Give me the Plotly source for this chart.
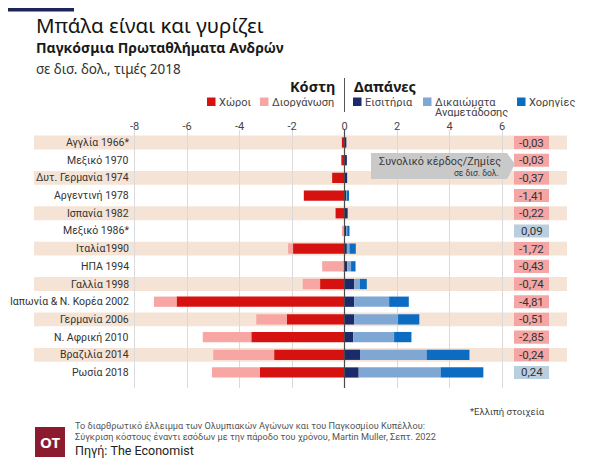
import plotly.graph_objects as go

# ---------------- data ----------------
countries = ["Αγγλία 1966*", "Μεξικό 1970", "Δυτ. Γερμανία 1974", "Αργεντινή 1978",
             "Ισπανία 1982", "Μεξικό 1986*", "Ιταλία1990", "ΗΠΑ 1994", "Γαλλία 1998",
             "Ιαπωνία & Ν. Κορέα 2002", "Γερμανία 2006", "Ν. Αφρική 2010",
             "Βραζιλία 2014", "Ρωσία 2018"]
venues = [-0.10, -0.12, -0.47, -1.55, -0.34, 0.0, -1.96, -0.02, -0.93, -6.40, -2.19, -3.55, -2.68, -3.23]
organisation = [0.0, 0.0, 0.0, 0.0, 0.0, -0.10, -0.19, -0.83, -0.66, -0.86, -1.17, -1.85, -2.32, -1.82]
tickets = [0.07, 0.09, 0.10, 0.07, 0.12, 0.07, 0.09, 0.10, 0.37, 0.37, 0.37, 0.33, 0.59, 0.54]
tv_rights = [0.0, 0.0, 0.0, 0.04, 0.0, 0.04, 0.10, 0.15, 0.22, 1.33, 1.67, 1.56, 2.54, 3.12]
sponsors = [0.0, 0.0, 0.0, 0.03, 0.0, 0.08, 0.24, 0.17, 0.26, 0.75, 0.81, 0.66, 1.63, 1.63]
net = [-0.03, -0.03, -0.37, -1.41, -0.22, 0.09, -1.72, -0.43, -0.74, -4.81, -0.51, -2.85, -0.24, 0.24]

series_names = ["Χώροι", "Διοργάνωση", "Εισιτήρια", "Δικαιώματα<br>Αναμετάδοσης", "Χορηγίες"]
series_values = [venues, organisation, tickets, tv_rights, sponsors]
series_colors = ["#D5120F", "#F7A6A4", "#1B2A6B", "#7FA7D3", "#0B6CC1"]
tick_values = [-8, -6, -4, -2, 0, 2, 4, 6]

# ---------------- geometry helpers (page pixel coordinates) ----------------
OFF = 8                       # default page margin around the plot div
W, H = 600 - OFF, 474 - OFF
ZERO_PX, PX_PER_UNIT = 344.5, 26.25
TOP_PX, BOT_PX = 130, 388
ROW0_PX, ROW_STEP = 142.5, 17.69


def dx(px):  # page pixel x -> data x
    return (px - ZERO_PX) / PX_PER_UNIT


def py(p):  # page pixel y -> paper y
    return (BOT_PX - p) / (BOT_PX - TOP_PX)


def ppx(p):  # page pixel x -> paper x
    return (p - OFF) / W


n = len(countries)
rows = list(range(n))
FONT = "Noto Sans"
FONT2 = "Roboto"

fig = go.Figure()
for name, vals, col in zip(series_names, series_values, series_colors):
    fig.add_trace(go.Bar(
        y=rows, x=vals, orientation="h", name=name.replace("<br>", " "),
        marker=dict(color=col, line=dict(width=0)), width=0.58,
        showlegend=False, hoverinfo="x+name"))

shapes = []
annotations = []

# row bands
for i in rows:
    if i % 2 == 0:
        shapes.append(dict(type="rect", xref="x", yref="y", x0=dx(34), x1=dx(567),
                           y0=i - 0.39, y1=i + 0.39, fillcolor="#F5E3D5",
                           line=dict(width=0), layer="below"))

# category labels
for i, c in enumerate(countries):
    annotations.append(dict(x=dx(131), y=i, xref="x", yref="y", text=c, showarrow=False,
                            xanchor="right", yanchor="middle",
                            font=dict(family=FONT2, size=10.5, color="#333333")))

# net value boxes
for i, v in enumerate(net):
    shapes.append(dict(type="rect", xref="x", yref="y", x0=dx(514), x1=dx(549),
                       y0=i - 0.37, y1=i + 0.37,
                       fillcolor="#F5A5A4" if v < 0 else "#B9CEDF",
                       line=dict(width=0), layer="below"))
    annotations.append(dict(x=dx(531.5), y=i, xref="x", yref="y",
                            text=f"{v:.2f}".replace(".", ","), showarrow=False,
                            xanchor="center", yanchor="middle",
                            font=dict(family=FONT2, size=11.5, color="#333333")))

# zero line on top of bars
shapes.append(dict(type="line", xref="x", yref="paper", x0=0, x1=0, y0=0, y1=1,
                   line=dict(color="#4a4a4a", width=1.2), layer="above"))

# callout
x0c, x1c, xt = ppx(371), ppx(507), ppx(515)
shapes.append(dict(type="path", xref="paper", yref="paper",
                   path=f"M {x0c},{py(153)} L {x1c},{py(153)} L {xt},{py(164)} "
                        f"L {x1c},{py(179)} L {x0c},{py(179)} Z",
                   fillcolor="#C9C9C9", line=dict(width=0), layer="above"))
annotations.append(dict(x=ppx(503), y=py(161.5), xref="paper", yref="paper",
                        text="Συνολικό κέρδος/Ζημίες", showarrow=False,
                        xanchor="right", yanchor="middle",
                        font=dict(family=FONT2, size=10.8, color="#3a3a3a")))
annotations.append(dict(x=ppx(501), y=py(173), xref="paper", yref="paper",
                        text="σε δισ. δολ.", showarrow=False,
                        xanchor="right", yanchor="middle",
                        font=dict(family=FONT2, size=8.5, color="#3a3a3a")))

# header: Κόστη | Δαπάνες
annotations.append(dict(x=ppx(337), y=py(86), xref="paper", yref="paper", text="<b>Κόστη</b>",
                        showarrow=False, xanchor="right", yanchor="middle",
                        font=dict(family=FONT, size=14.5, color="#1a1a1a")))
annotations.append(dict(x=ppx(352), y=py(86), xref="paper", yref="paper", text="<b>Δαπάνες</b>",
                        showarrow=False, xanchor="left", yanchor="middle",
                        font=dict(family=FONT, size=14.5, color="#1a1a1a")))
shapes.append(dict(type="line", xref="paper", yref="paper", x0=ppx(344.5), x1=ppx(344.5),
                   y0=py(78), y1=py(112), line=dict(color="#555555", width=1)))

# legend
legend_sq_x = [207, 260, 353, 423, 517]
for name, col, sx in zip(series_names, series_colors, legend_sq_x):
    shapes.append(dict(type="rect", xref="paper", yref="paper", x0=ppx(sx), x1=ppx(sx + 8.5),
                       y0=py(106), y1=py(97.5), fillcolor=col, line=dict(width=0)))
    for k, part in enumerate(name.split("<br>")):
        annotations.append(dict(x=ppx(sx + 11), y=py(101.5 + 10.5 * k), xref="paper",
                                yref="paper", text=part, showarrow=False, xanchor="left",
                                yanchor="middle", height=10, borderpad=0,
                                font=dict(family=FONT2, size=11, color="#444444")))

# title block
shapes.append(dict(type="rect", xref="paper", yref="paper", x0=ppx(OFF), x1=ppx(74),
                   y0=py(3.5 + OFF), y1=py(OFF), fillcolor="#1C2458", line=dict(width=0)))
annotations.append(dict(x=ppx(34), y=py(25), xref="paper", yref="paper",
                        text="Μπάλα είναι και γυρίζει", showarrow=False,
                        xanchor="left", yanchor="middle",
                        font=dict(family=FONT, size=20.5, color="#141414")))
annotations.append(dict(x=ppx(34), y=py(47.5), xref="paper", yref="paper",
                        text="<b>Παγκόσμια Πρωταθλήματα Ανδρών</b>", showarrow=False,
                        xanchor="left", yanchor="middle",
                        font=dict(family=FONT, size=14, color="#1a1a1a")))
annotations.append(dict(x=ppx(34), y=py(68.5), xref="paper", yref="paper",
                        text="σε δισ. δολ., τιμές 2018", showarrow=False,
                        xanchor="left", yanchor="middle",
                        font=dict(family=FONT, size=13.5, color="#333333")))

# footer
annotations.append(dict(x=ppx(547), y=py(411), xref="paper", yref="paper",
                        text="*Ελλιπή στοιχεία", showarrow=False,
                        xanchor="right", yanchor="middle",
                        font=dict(family=FONT2, size=9.5, color="#444444")))
shapes.append(dict(type="rect", xref="paper", yref="paper", x0=ppx(35), x1=ppx(65),
                   y0=py(457), y1=py(427), fillcolor="#8C1B30", line=dict(width=0)))
annotations.append(dict(x=ppx(50), y=py(442), xref="paper", yref="paper",
                        text="<b>OT</b>", showarrow=False, xanchor="center", yanchor="middle",
                        font=dict(family=FONT, size=15, color="white")))
annotations.append(dict(x=ppx(73), y=py(425), xref="paper", yref="paper",
                        text="Το διαρθρωτικό έλλειμμα των Ολυμπιακών Αγώνων και του Παγκοσμίου Κυπέλλου:",
                        showarrow=False, xanchor="left", yanchor="middle",
                        font=dict(family=FONT2, size=9.2, color="#555555")))
annotations.append(dict(x=ppx(73), y=py(436.5), xref="paper", yref="paper",
                        text="Σύγκριση κόστους έναντι εσόδων με την πάροδο του χρόνου, Martin Muller, Σεπτ. 2022",
                        showarrow=False, xanchor="left", yanchor="middle",
                        font=dict(family=FONT2, size=9.2, color="#555555")))
annotations.append(dict(x=ppx(73), y=py(450.5), xref="paper", yref="paper",
                        text="Πηγή: The Economist", showarrow=False,
                        xanchor="left", yanchor="middle",
                        font=dict(family=FONT2, size=12.5, color="#222222")))

fig.update_layout(
    width=W, height=H,
    margin=dict(l=0, r=0, t=TOP_PX - OFF, b=H - (BOT_PX - OFF), pad=0),
    paper_bgcolor="white", plot_bgcolor="rgba(0,0,0,0)",
    barmode="relative", bargap=0.4,
    shapes=shapes, annotations=annotations,
    xaxis=dict(range=[dx(OFF), dx(OFF + W)], side="top", tickmode="array",
               tickvals=tick_values, ticktext=[str(t) for t in tick_values],
               showgrid=True, gridcolor="#DADADA", gridwidth=1, zeroline=False,
               showline=False, ticks="", ticklabelstandoff=-3,
               tickfont=dict(family=FONT2, size=11, color="#444444"), fixedrange=True),
    yaxis=dict(range=[13 + (BOT_PX - (ROW0_PX + 13 * ROW_STEP)) / ROW_STEP,
                      -(ROW0_PX - TOP_PX) / ROW_STEP],
               showgrid=False, zeroline=False, showticklabels=False, fixedrange=True),
    font=dict(family=FONT),
)

fig.write_html("out.html")
